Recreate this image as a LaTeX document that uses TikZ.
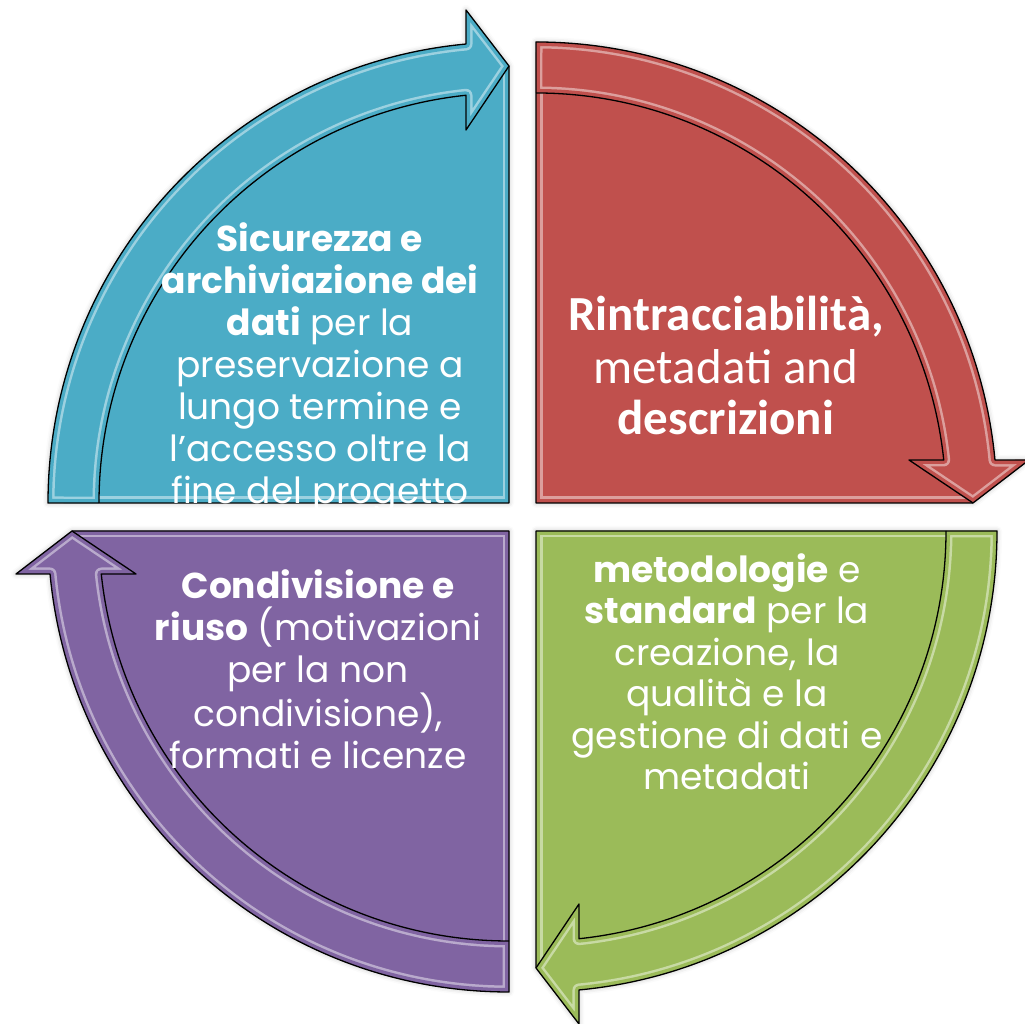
\documentclass[tikz,border=0pt]{standalone}
\usepackage{fontspec}
\setmainfont{Poppins}
\newfontfamily\calibri{Carlito}
\usetikzlibrary{shadows.blur}

\definecolor{quadblue}{HTML}{4BACC6}
\definecolor{quadred}{HTML}{C0504D}
\definecolor{quadgreen}{HTML}{9BBB59}
\definecolor{quadpurple}{HTML}{8064A2}

% #1 centre, #2 rotation, #3 colour
\newcommand{\quarterarrow}[3]{%
  \begin{scope}[shift={#1},rotate=#2]
    \fill[#3,blur shadow={shadow xshift=0pt,shadow yshift=0pt,shadow blur radius=5pt,shadow opacity=25}]
      (0,0) -- (-461,0) arc[start angle=180,end angle=95.35,radius=461] -- (-43,493) -- (0,437) -- cycle;
    % bevel of the band
    \begin{scope}
      \clip (-461,0) arc[start angle=180,end angle=95.35,radius=461] -- (-43,493) -- (0,437) -- (-43,373)
        -- (-43,407.7) arc[start angle=96.02,end angle=180,radius=410] -- cycle;
      \draw[#3!55!white,line width=13pt,line join=round] (-461,0) arc[start angle=180,end angle=95.35,radius=461] -- (-43,493) -- (0,437) -- (-43,373)
        -- (-43,407.7) arc[start angle=96.02,end angle=180,radius=410] -- cycle;
      \draw[#3,line width=8pt,line join=round] (-461,0) arc[start angle=180,end angle=95.35,radius=461] -- (-43,493) -- (0,437) -- (-43,373)
        -- (-43,407.7) arc[start angle=96.02,end angle=180,radius=410] -- cycle;
    \end{scope}
    % bevel of the quadrant
    \begin{scope}
      \clip (0,0) -- (-410,0) arc[start angle=180,end angle=96.02,radius=410] -- (-43,373) -- (0,437) -- cycle;
      \draw[#3!55!white,line width=13pt] (0,437) -- (0,0) -- (-410,0);
      \draw[#3,line width=8pt] (0,437) -- (0,0) -- (-410,0);
    \end{scope}
    % outlines
    \draw[line width=1.3pt,line join=round]
      (0,0) -- (-461,0) arc[start angle=180,end angle=95.35,radius=461] -- (-43,493) -- (0,437) -- cycle;
    \draw[line width=1.3pt,line join=round]
      (-410,0) arc[start angle=180,end angle=96.02,radius=410] -- (-43,373) -- (0,437);
  \end{scope}}

\begin{document}
\begin{tikzpicture}[x=1pt,y=1pt,
    quadtext/.style={text=white,align=center,inner sep=0pt}]
    \useasboundingbox (0,0) rectangle (1025,1024);

    % Four quarters
    \quarterarrow{(509,521)}{0}{quadblue}
    \quarterarrow{(536,521)}{-90}{quadred}
    \quarterarrow{(536,493)}{-180}{quadgreen}
    \quarterarrow{(509,493)}{90}{quadpurple}

    % Texts
    \node[quadtext,font=\fontsize{36}{42}\selectfont] (sicurezza) at (320,656)
        {\textbf{Sicurezza e}\\ \textbf{archiviazione dei}\\ \textbf{dati} per la\\ preservazione a\\ lungo termine e\\ l’accesso oltre la\\ fine del progetto};
    \node[quadtext,font=\calibri\fontsize{49}{52}\selectfont] (rintracciabilita) at (726,658)
        {\textbf{Rintracciabilità,}\\ metadati and\\ \textbf{descrizioni}};
    \node[quadtext,font=\fontsize{36}{41.5}\selectfont] (metodologie) at (727,352)
        {\textbf{metodologie} e\\ \textbf{standard} per la\\ creazione, la\\ qualità e la\\ gestione di dati e\\ metadati};
    \node[quadtext,font=\fontsize{36}{42}\selectfont] (condivisione) at (318,355)
        {\textbf{Condivisione e}\\ \textbf{riuso} (motivazioni\\ per la non\\ condivisione),\\ formati e licenze};
\end{tikzpicture}
\end{document}
